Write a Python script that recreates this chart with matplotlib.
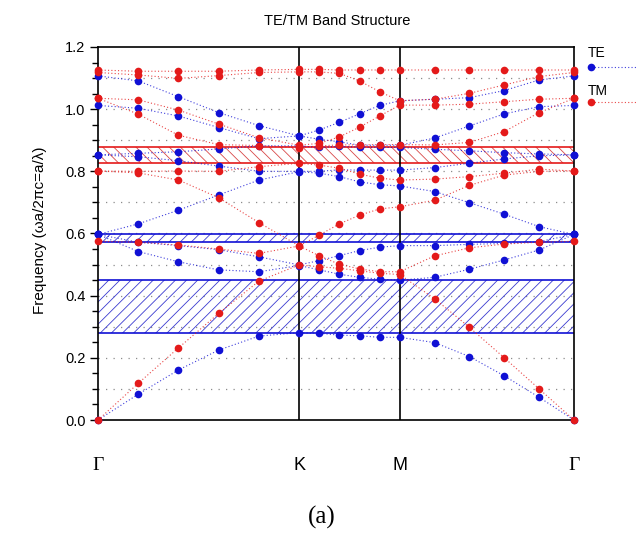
import numpy as np
import matplotlib
matplotlib.use("Agg")
import matplotlib.pyplot as plt
from matplotlib.lines import Line2D
from matplotlib.ticker import MultipleLocator, FormatStrFormatter

plt.rcParams['font.family'] = ['Liberation Sans', 'DejaVu Sans']
plt.rcParams['hatch.linewidth'] = 0.6

# symmetry points and segment lengths (units of 2pi/a)
sym_labels = ['Γ', 'K', 'M', 'Γ']
seg_len = [2 / 3, 1 / 3, 1 / np.sqrt(3)]
n_div = 5

# TE bands, 16 k-points: Γ -> K -> M -> Γ
te1 = [0.000, 0.083, 0.161, 0.225, 0.270, 0.281, 0.279, 0.273, 0.271, 0.266, 0.266, 0.249, 0.204, 0.142, 0.073, 0.000]
te2 = [0.597, 0.542, 0.509, 0.483, 0.477, 0.497, 0.483, 0.469, 0.459, 0.453, 0.450, 0.459, 0.485, 0.515, 0.547, 0.597]
te3 = [0.597, 0.572, 0.561, 0.548, 0.525, 0.499, 0.513, 0.529, 0.545, 0.556, 0.561, 0.561, 0.565, 0.568, 0.574, 0.597]
te4 = [0.597, 0.631, 0.675, 0.724, 0.772, 0.799, 0.794, 0.783, 0.766, 0.757, 0.753, 0.735, 0.699, 0.662, 0.622, 0.597]
te5 = [0.853, 0.847, 0.834, 0.817, 0.800, 0.800, 0.800, 0.805, 0.804, 0.804, 0.804, 0.812, 0.826, 0.840, 0.850, 0.853]
te6 = [0.853, 0.858, 0.863, 0.872, 0.882, 0.882, 0.877, 0.880, 0.878, 0.877, 0.877, 0.871, 0.866, 0.860, 0.856, 0.853]
te7 = [1.012, 1.003, 0.978, 0.941, 0.905, 0.914, 0.903, 0.895, 0.884, 0.884, 0.884, 0.907, 0.946, 0.985, 1.008, 1.012]
te8 = [1.107, 1.091, 1.040, 0.989, 0.947, 0.914, 0.933, 0.958, 0.985, 1.012, 1.027, 1.032, 1.037, 1.060, 1.094, 1.107]

# TM bands
tm1 = [0.000, 0.118, 0.232, 0.343, 0.447, 0.499, 0.493, 0.488, 0.480, 0.472, 0.468, 0.390, 0.298, 0.200, 0.100, 0.000]
tm2 = [0.575, 0.572, 0.563, 0.550, 0.536, 0.560, 0.528, 0.501, 0.486, 0.477, 0.477, 0.528, 0.554, 0.566, 0.572, 0.575]
tm3 = [0.801, 0.795, 0.772, 0.715, 0.635, 0.560, 0.595, 0.631, 0.659, 0.679, 0.686, 0.707, 0.755, 0.788, 0.800, 0.801]
tm4 = [0.801, 0.800, 0.801, 0.800, 0.815, 0.826, 0.820, 0.810, 0.791, 0.778, 0.772, 0.775, 0.783, 0.794, 0.807, 0.801]
tm5 = [1.035, 0.984, 0.916, 0.886, 0.883, 0.876, 0.882, 0.885, 0.885, 0.886, 0.886, 0.885, 0.893, 0.928, 0.989, 1.035]
tm6 = [1.035, 1.030, 0.997, 0.952, 0.908, 0.884, 0.890, 0.911, 0.942, 0.978, 1.013, 1.013, 1.016, 1.024, 1.032, 1.035]
tm7 = [1.118, 1.110, 1.099, 1.108, 1.118, 1.120, 1.120, 1.115, 1.091, 1.056, 1.027, 1.032, 1.051, 1.078, 1.105, 1.118]
tm8 = [1.126, 1.122, 1.122, 1.122, 1.126, 1.128, 1.128, 1.126, 1.126, 1.126, 1.126, 1.126, 1.126, 1.126, 1.126, 1.126]

# band gaps (lower, upper)
te_gaps = [(0.281, 0.450), (0.572, 0.597)]
tm_gaps = [(0.826, 0.879)]

grid_levels = [0.1, 0.2, 0.3, 0.4, 0.5, 0.6, 0.7, 0.8, 0.9, 1.0, 1.1]

blue = '#1010d4'
red = '#e41a1a'

# k positions along the path
edges = np.concatenate([[0], np.cumsum(seg_len)])
kx = [0.0]
for a, b in zip(edges[:-1], edges[1:]):
    kx += list(np.linspace(a, b, n_div + 1)[1:])
kx = np.array(kx)
sym_x = edges

fig = plt.figure(figsize=(6.37, 5.51), dpi=100)
ax = fig.add_axes([98 / 637, 1 - 420 / 551, 476 / 637, 373 / 551])

for y in grid_levels:
    ax.axhline(y, color='#8c8c8c', ls=(0, (1, 5)), lw=0.9, zorder=1)

for lo, hi in te_gaps:
    ax.axhspan(lo, hi, facecolor='none', edgecolor='#3a3ad0', hatch='///', lw=0, zorder=2)
    ax.axhline(lo, color=blue, lw=1.2, zorder=2)
    ax.axhline(hi, color=blue, lw=1.2, zorder=2)
for lo, hi in tm_gaps:
    ax.axhspan(lo, hi, facecolor='none', edgecolor='#d84848', hatch='\\\\\\', lw=0, zorder=2)
    ax.axhline(lo, color=red, lw=1.2, zorder=2)
    ax.axhline(hi, color=red, lw=1.2, zorder=2)

for xv in sym_x[1:-1]:
    ax.axvline(xv, color='k', lw=1.2, zorder=3)

for band in [te1, te2, te3, te4, te5, te6, te7, te8]:
    ax.plot(kx, band, color=blue, ls=(0, (1, 2)), lw=0.8, alpha=0.8, zorder=4)
    ax.plot(kx, band, 'o', color=blue, ms=5.5, mec='none', zorder=5, clip_on=False)
for band in [tm1, tm2, tm3, tm4, tm5, tm6, tm7, tm8]:
    ax.plot(kx, band, color=red, ls=(0, (1, 2)), lw=0.8, alpha=0.8, zorder=6)
    ax.plot(kx, band, 'o', color=red, ms=5.5, mec='none', zorder=7, clip_on=False)

ax.set_xlim(sym_x[0], sym_x[-1])
ax.set_ylim(0, 1.2)
ax.yaxis.set_major_locator(MultipleLocator(0.2))
ax.yaxis.set_minor_locator(MultipleLocator(0.05))
ax.yaxis.set_major_formatter(FormatStrFormatter('%.1f'))
ax.tick_params(axis='y', which='major', direction='out', length=6, width=1, labelsize=10.5, pad=3)
ax.tick_params(axis='y', which='minor', direction='out', length=4, width=1)
ax.set_xticks(sym_x)
ax.set_xticklabels(sym_labels, fontsize=13)
ax.tick_params(axis='x', length=0, pad=27)
for lbl in ax.get_xticklabels():
    if lbl.get_text() == 'Γ':
        lbl.set_fontfamily('Liberation Serif')
        lbl.set_fontsize(14)
for sp in ax.spines.values():
    sp.set_linewidth(1.2)

fig.text(40 / 637, 1 - 230 / 551, 'Frequency (ωa/2πc=a/λ)', rotation=90,
         ha='center', va='center', fontsize=11)
fig.text(337 / 637, 1 - 21 / 551, 'TE/TM Band Structure', ha='center', va='center', fontsize=10.5)

# legend drawn by hand, to the right of the plot
for name, col, ty, my in [('TE', blue, 53, 67), ('TM', red, 91, 102)]:
    fig.text(588 / 637, 1 - ty / 551, name, ha='left', va='center', fontsize=10)
    fig.add_artist(Line2D([591 / 637, 1.0], [1 - my / 551] * 2, color=col, ls=(0, (1, 2)),
                          lw=0.8, alpha=0.8, transform=fig.transFigure))
    fig.add_artist(Line2D([591 / 637], [1 - my / 551], color=col, marker='o', ms=5.5,
                          mec='none', transform=fig.transFigure))

fig.text(322 / 637, 1 - 517 / 551, '(a)', family='Liberation Serif', fontsize=18,
         ha='center', va='center')

fig.savefig('out.png', dpi=100)
